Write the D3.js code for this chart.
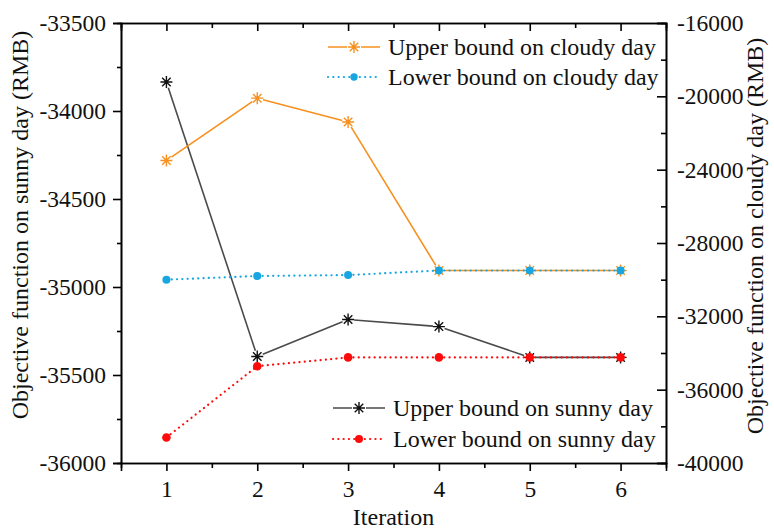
<!DOCTYPE html>
<html>
<head>
<meta charset="utf-8">
<script src="https://cdn.jsdelivr.net/npm/d3@7"></script>
<style>
  html, body { margin: 0; padding: 0; background: #fff; }
  svg { display: block; }
  svg text { font-family: 'Liberation Serif', Tinos, 'Times New Roman', Times, 'DejaVu Serif', serif; }
</style>
</head>
<body>
<svg id="chart" width="774" height="529"></svg>
<script>
// Iterations of the bounding procedure
const iterations = [1, 2, 3, 4, 5, 6];

// Sunny day objective (left axis, RMB)
const upperSunny = [-33835, -35395, -35185, -35225, -35400, -35400];
const lowerSunny = [-35855, -35450, -35400, -35400, -35400, -35400];

// Cloudy day objective (right axis, RMB)
const upperCloudy = [-23500, -20100, -21400, -29500, -29500, -29500];
const lowerCloudy = [-30000, -29800, -29750, -29500, -29500, -29500];

// Tick values
const leftTicks = [-36000, -35500, -35000, -34500, -34000, -33500];
const rightTicks = [-40000, -36000, -32000, -28000, -24000, -20000, -16000];

const seriesLabels = [
  "Upper bound on cloudy day",
  "Lower bound on cloudy day",
  "Upper bound on sunny day",
  "Lower bound on sunny day"
];

const SERIF = "'Liberation Serif', Tinos, 'Times New Roman', Times, 'DejaVu Serif', serif";
const W = 774, H = 529;
const M = { left: 121, right: 108, top: 23, bottom: 66 };
const svg = d3.select("#chart");

const x = d3.scaleLinear().domain([0.5, 6.5]).range([M.left, W - M.right]);
const yL = d3.scaleLinear().domain([-36000, -33500]).range([H - M.bottom, M.top]);
const yR = d3.scaleLinear().domain([-40000, -16000]).range([H - M.bottom, M.top]);

const tickFont = 23.5;
const fmt = d => String(d);

// ---- axes ----
function styleAxis(g) {
  g.attr("font-family", SERIF).attr("font-size", tickFont);
  g.selectAll(".domain").attr("stroke", "#000").attr("stroke-width", 1.6);
  g.selectAll(".tick line").attr("stroke", "#000").attr("stroke-width", 1.6);
  g.selectAll(".tick text").attr("fill", "#111");
}

// minor ticks (no labels)
const leftMinor = d3.range(-35750, -33500, 500);
const rightMinor = d3.range(-38000, -16000, 4000);
const xMinor = [1.5, 2.5, 3.5, 4.5, 5.5];

svg.append("g").attr("transform", `translate(${M.left},0)`)
  .call(d3.axisLeft(yL).tickValues(leftMinor).tickSize(4).tickFormat(""))
  .call(styleAxis);
svg.append("g").attr("transform", `translate(${M.left},0)`)
  .call(d3.axisLeft(yL).tickValues(leftTicks).tickSize(8).tickPadding(7).tickFormat(fmt))
  .call(styleAxis);

svg.append("g").attr("transform", `translate(${W - M.right},0)`)
  .call(d3.axisRight(yR).tickValues(rightMinor).tickSize(-5).tickFormat(""))
  .call(styleAxis);
svg.append("g").attr("transform", `translate(${W - M.right},0)`)
  .call(d3.axisRight(yR).tickValues(rightTicks).tickSize(-9).tickPadding(11).tickFormat(fmt))
  .call(styleAxis);

svg.append("g").attr("transform", `translate(0,${H - M.bottom})`)
  .call(d3.axisBottom(x).tickValues(xMinor).tickSize(5).tickFormat(""))
  .call(styleAxis);
svg.append("g").attr("transform", `translate(0,${H - M.bottom})`)
  .call(d3.axisBottom(x).tickValues(iterations).tickSize(8).tickPadding(9).tickFormat(d3.format("d")))
  .call(styleAxis);

svg.append("g").attr("transform", `translate(0,${M.top})`)
  .call(d3.axisTop(x).tickValues(xMinor).tickSize(-5).tickFormat(""))
  .call(styleAxis);
svg.append("g").attr("transform", `translate(0,${M.top})`)
  .call(d3.axisTop(x).tickValues(iterations).tickSize(-8).tickFormat(""))
  .call(styleAxis);

// ---- axis titles ----
const titleFont = 24;
svg.append("text")
  .attr("transform", "translate(28,225) rotate(-90)")
  .attr("text-anchor", "middle").attr("font-size", titleFont).attr("fill", "#111")
  .text("Objective function on sunny day (RMB)");
svg.append("text")
  .attr("transform", "translate(763,236) rotate(-90)")
  .attr("text-anchor", "middle").attr("font-size", titleFont).attr("fill", "#111")
  .text("Objective function on cloudy day (RMB)");
svg.append("text")
  .attr("x", (M.left + W - M.right) / 2).attr("y", 525)
  .attr("text-anchor", "middle").attr("font-size", titleFont).attr("fill", "#111")
  .text("Iteration");

// ---- marks ----
function asterisk(g, cx, cy, r, color) {
  const p = d3.path();
  for (let k = 0; k < 4; k++) {
    const a = k * Math.PI / 4;
    p.moveTo(cx - r * Math.sin(a), cy - r * Math.cos(a));
    p.lineTo(cx + r * Math.sin(a), cy + r * Math.cos(a));
  }
  g.append("path").attr("d", p.toString()).attr("stroke", color)
    .attr("stroke-width", 1.4).attr("fill", "none");
}

// polyline split into segments, trimmed near each symbol
function drawSeries(values, yScale, opts) {
  const g = svg.append("g");
  const pts = values.map((v, i) => [x(iterations[i]), yScale(v)]);
  for (let i = 0; i < pts.length - 1; i++) {
    const [x0, y0] = pts[i], [x1, y1] = pts[i + 1];
    const len = Math.hypot(x1 - x0, y1 - y0);
    const ux = (x1 - x0) / len, uy = (y1 - y0) / len;
    g.append("line")
      .attr("x1", x0 + ux * opts.gap).attr("y1", y0 + uy * opts.gap)
      .attr("x2", x1 - ux * opts.gap).attr("y2", y1 - uy * opts.gap)
      .attr("stroke", opts.lineColor).attr("stroke-width", opts.width)
      .attr("stroke-dasharray", opts.dash || null)
      .attr("stroke-linecap", opts.dash ? "round" : "butt");
  }
  pts.forEach(([px, py]) => {
    if (opts.symbol === "star") asterisk(g, px, py, 6, opts.symbolColor);
    else g.append("circle").attr("cx", px).attr("cy", py).attr("r", opts.r).attr("fill", opts.symbolColor);
  });
}

const ORANGE = "#F7901E", BLUE = "#17A6DF", RED = "#FF0A0A", GREY = "#4A4A4A";

const styles = [
  { lineColor: ORANGE, symbolColor: ORANGE, width: 1.6, gap: 6, symbol: "star" },
  { lineColor: BLUE, symbolColor: BLUE, width: 2.2, gap: 0, symbol: "dot", r: 4, dash: "0.1,5.2" },
  { lineColor: GREY, symbolColor: "#111", width: 1.6, gap: 6, symbol: "star" },
  { lineColor: RED, symbolColor: RED, width: 2.2, gap: 0, symbol: "dot", r: 4.3, dash: "0.1,5.2" }
];

drawSeries(upperSunny, yL, styles[2]);
drawSeries(lowerSunny, yL, styles[3]);
drawSeries(upperCloudy, yR, styles[0]);
drawSeries(lowerCloudy, yR, styles[1]);

// ---- legends ----
const legendFont = 24;
function legendRow(x0, y0, st, label) {
  const g = svg.append("g");
  g.append("line").attr("x1", x0).attr("x2", x0 + 52).attr("y1", y0).attr("y2", y0)
    .attr("stroke", st.lineColor).attr("stroke-width", st.width)
    .attr("stroke-dasharray", st.dash || null).attr("stroke-linecap", st.dash ? "round" : "butt");
  if (st.symbol === "star") {
    g.append("rect").attr("x", x0 + 19).attr("y", y0 - 7).attr("width", 14).attr("height", 14).attr("fill", "#fff");
    asterisk(g, x0 + 26, y0, 6, st.symbolColor);
  } else {
    g.append("circle").attr("cx", x0 + 26).attr("cy", y0).attr("r", st.r - 0.3).attr("fill", st.symbolColor);
  }
  g.append("text").attr("x", x0 + 60).attr("y", y0 + 8)
    .attr("font-size", legendFont).attr("fill", "#111").text(label);
}
legendRow(328, 47, styles[0], seriesLabels[0]);
legendRow(328, 77, styles[1], seriesLabels[1]);
legendRow(333, 408, styles[2], seriesLabels[2]);
legendRow(333, 439, styles[3], seriesLabels[3]);
</script>
</body>
</html>
